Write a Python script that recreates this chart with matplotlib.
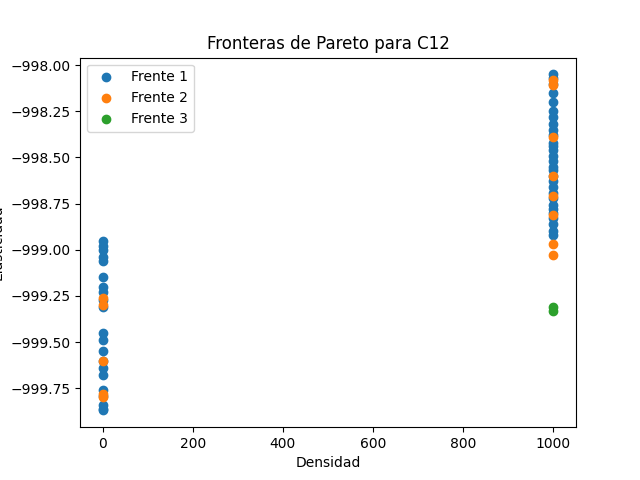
import matplotlib
matplotlib.use("Agg")
import matplotlib.pyplot as plt

# frente 1: densidad / elasticidad
f1_dens = [0] * 21 + [1000] * 29
f1_elas = [-998.95, -998.98, -999.00, -999.04, -999.06, -999.15, -999.20, -999.23, -999.27, -999.31,
           -999.45, -999.49, -999.55, -999.60, -999.64, -999.68, -999.76, -999.79, -999.84, -999.86, -999.87,
           -998.05, -998.07, -998.10, -998.15, -998.20, -998.25, -998.28, -998.32, -998.35, -998.38,
           -998.42, -998.44, -998.46, -998.49, -998.52, -998.55, -998.57, -998.60, -998.63, -998.66,
           -998.69, -998.72, -998.76, -998.78, -998.80, -998.83, -998.86, -998.90, -998.92]

# frente 2
f2_dens = [0] * 5 + [1000] * 8
f2_elas = [-999.26, -999.30, -999.60, -999.78, -999.80,
           -998.08, -998.11, -998.39, -998.60, -998.71, -998.81, -998.97, -999.03]

# frente 3
f3_dens = [1000, 1000]
f3_elas = [-999.31, -999.33]

plt.figure(figsize=(6.4, 4.8), dpi=100)
plt.scatter(f1_dens, f1_elas, label='Frente 1')
plt.scatter(f2_dens, f2_elas, label='Frente 2')
plt.scatter(f3_dens, f3_elas, label='Frente 3')
plt.xlabel('Densidad')
plt.ylabel('Elasticidad')
plt.title('Fronteras de Pareto para C12')
plt.legend()
plt.savefig("out.png")
